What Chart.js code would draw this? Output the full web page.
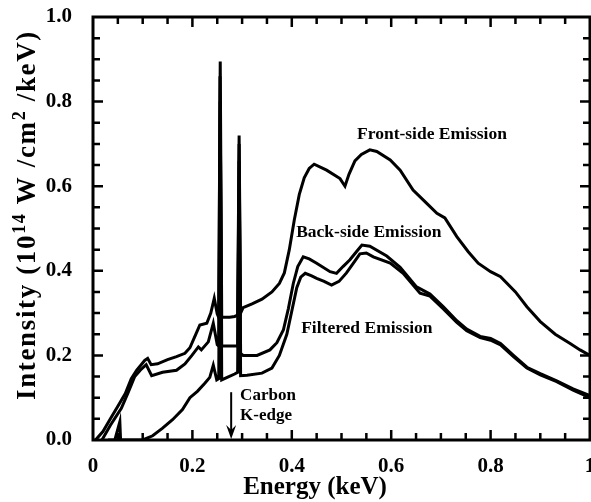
<!DOCTYPE html>
<html>
<head>
<meta charset="utf-8">
<script src="https://cdn.jsdelivr.net/npm/chart.js@4"></script>
<style>
  html, body { margin: 0; padding: 0; background: #fff; }
  #wrap { width: 591px; height: 502px; }
</style>
</head>
<body>
<div id="wrap"><canvas id="chart"></canvas></div>
<script>
// values (energy in keV, intensity in 1e14 W/cm^2/keV)
const frontE = [0.005, 0.02, 0.035, 0.05, 0.065, 0.077, 0.088, 0.097, 0.104, 0.11, 0.117, 0.13, 0.15, 0.168, 0.185, 0.195, 0.205, 0.215, 0.229, 0.237, 0.244, 0.25, 0.253, 0.256, 0.259, 0.265, 0.275, 0.285, 0.291, 0.294, 0.297, 0.302, 0.32, 0.34, 0.36, 0.375, 0.385, 0.395, 0.405, 0.415, 0.425, 0.435, 0.445, 0.47, 0.497, 0.507, 0.515, 0.527, 0.54, 0.557, 0.571, 0.598, 0.618, 0.644, 0.671, 0.692, 0.708, 0.732, 0.755, 0.775, 0.8, 0.82, 0.85, 0.873, 0.9, 0.93, 0.96, 0.98, 1.0];
const frontI = [0, 0.02, 0.05, 0.08, 0.11, 0.145, 0.165, 0.178, 0.188, 0.193, 0.178, 0.18, 0.19, 0.197, 0.205, 0.218, 0.245, 0.272, 0.276, 0.3, 0.335, 0.298, 0.29, 0.895, 0.29, 0.29, 0.29, 0.292, 0.295, 0.72, 0.3, 0.313, 0.322, 0.333, 0.35, 0.37, 0.395, 0.45, 0.52, 0.58, 0.62, 0.642, 0.652, 0.638, 0.618, 0.6, 0.628, 0.66, 0.675, 0.686, 0.682, 0.662, 0.638, 0.591, 0.56, 0.536, 0.525, 0.481, 0.445, 0.418, 0.398, 0.386, 0.35, 0.315, 0.28, 0.25, 0.228, 0.213, 0.2];

const backE = [0.018, 0.035, 0.057, 0.07, 0.084, 0.095, 0.107, 0.118, 0.14, 0.168, 0.185, 0.199, 0.212, 0.218, 0.232, 0.242, 0.25, 0.253, 0.2555, 0.259, 0.27, 0.285, 0.291, 0.294, 0.297, 0.302, 0.33, 0.356, 0.37, 0.383, 0.393, 0.403, 0.412, 0.423, 0.435, 0.45, 0.477, 0.49, 0.503, 0.517, 0.53, 0.541, 0.557, 0.591, 0.618, 0.651, 0.678, 0.705, 0.732, 0.752, 0.779, 0.8, 0.82, 0.846, 0.873, 0.9, 0.933, 0.966, 1.0];
const backI = [0, 0.035, 0.075, 0.11, 0.15, 0.165, 0.178, 0.152, 0.16, 0.165, 0.18, 0.2, 0.22, 0.213, 0.232, 0.276, 0.225, 0.222, 0.86, 0.222, 0.222, 0.222, 0.222, 0.70, 0.205, 0.2, 0.2, 0.213, 0.23, 0.26, 0.31, 0.37, 0.41, 0.433, 0.428, 0.418, 0.398, 0.394, 0.41, 0.426, 0.445, 0.461, 0.458, 0.435, 0.408, 0.362, 0.345, 0.315, 0.282, 0.262, 0.245, 0.24, 0.228, 0.2, 0.172, 0.157, 0.14, 0.121, 0.105];

const filtE = [0.03, 0.044, 0.054, 0.0555, 0.1, 0.12, 0.14, 0.16, 0.18, 0.195, 0.21, 0.225, 0.235, 0.242, 0.249, 0.253, 0.256, 0.259, 0.27, 0.285, 0.291, 0.294, 0.297, 0.31, 0.34, 0.36, 0.375, 0.39, 0.40, 0.41, 0.418, 0.427, 0.44, 0.45, 0.465, 0.48, 0.495, 0.51, 0.525, 0.537, 0.55, 0.564, 0.598, 0.624, 0.658, 0.678, 0.705, 0.732, 0.752, 0.779, 0.8, 0.82, 0.846, 0.873, 0.9, 0.933, 0.966, 1.0];
const filtI = [0, 0, 0.043, 0, 0, 0.01, 0.028, 0.048, 0.072, 0.1, 0.115, 0.134, 0.148, 0.177, 0.142, 0.145, 0.8, 0.142, 0.148, 0.156, 0.16, 0.66, 0.152, 0.153, 0.158, 0.17, 0.2, 0.25, 0.305, 0.36, 0.385, 0.394, 0.388, 0.382, 0.375, 0.366, 0.375, 0.395, 0.42, 0.44, 0.442, 0.433, 0.418, 0.394, 0.347, 0.34, 0.31, 0.278, 0.258, 0.242, 0.236, 0.225, 0.197, 0.17, 0.154, 0.138, 0.118, 0.1];

const xTicks = ['0', '0.2', '0.4', '0.6', '0.8', '1'];
const yTicks = ['0.0', '0.2', '0.4', '0.6', '0.8', '1.0'];

const SERIF = '"Liberation Serif", "Times New Roman", serif';

function pts(xs, ys) {
  return xs.map((v, i) => ({x: v, y: ys[i]}));
}

function line(label, xs, ys) {
  return {
    label,
    data: pts(xs, ys),
    borderColor: '#000',
    borderWidth: 3,
    pointRadius: 0,
    fill: false,
    tension: 0,
  };
}

// box frame, inward ticks, annotations and the axis titles
const decorations = {
  id: 'decorations',
  afterDatasetsDraw(chart) {
    const {ctx, chartArea: a, scales: {x, y}} = chart;
    ctx.save();
    ctx.strokeStyle = '#000';
    ctx.fillStyle = '#000';
    ctx.lineWidth = 3;
    ctx.strokeRect(a.left, a.top, a.right - a.left, a.bottom - a.top);

    ctx.lineWidth = 2.5;
    ctx.beginPath();
    for (let i = 1; i < 20; i++) {
      const v = i * 0.05;
      const len = i % 4 === 0 ? 10 : 7;
      const px = x.getPixelForValue(v);
      const py = y.getPixelForValue(v);
      ctx.moveTo(px, a.bottom); ctx.lineTo(px, a.bottom - len);
      ctx.moveTo(px, a.top); ctx.lineTo(px, a.top + len);
      ctx.moveTo(a.left, py); ctx.lineTo(a.left + len, py);
      ctx.moveTo(a.right, py); ctx.lineTo(a.right - len, py);
    }
    ctx.stroke();

    // labels on the curves
    ctx.font = 'bold 17.5px ' + SERIF;
    ctx.textAlign = 'center';
    ctx.textBaseline = 'middle';
    ctx.fillText('Front-side Emission', x.getPixelForValue(0.682), y.getPixelForValue(0.722));
    ctx.fillText('Back-side Emission', x.getPixelForValue(0.555), y.getPixelForValue(0.49));
    ctx.fillText('Filtered Emission', x.getPixelForValue(0.551), y.getPixelForValue(0.263));

    ctx.font = 'bold 17px ' + SERIF;
    ctx.textAlign = 'left';
    ctx.fillText('Carbon', x.getPixelForValue(0.296), y.getPixelForValue(0.104));
    ctx.fillText('K-edge', x.getPixelForValue(0.296), y.getPixelForValue(0.057));

    // arrow to the carbon K-edge
    const ax = x.getPixelForValue(0.278);
    const ay0 = y.getPixelForValue(0.113);
    const ay1 = a.bottom - 1;
    ctx.lineWidth = 2;
    ctx.beginPath();
    ctx.moveTo(ax, ay0); ctx.lineTo(ax, ay1 - 8);
    ctx.stroke();
    ctx.beginPath();
    ctx.moveTo(ax - 5, ay1 - 14);
    ctx.lineTo(ax, ay1);
    ctx.lineTo(ax + 5, ay1 - 14);
    ctx.lineTo(ax, ay1 - 9);
    ctx.closePath();
    ctx.fill();

    // x axis title
    ctx.font = 'bold 25px ' + SERIF;
    ctx.textAlign = 'center';
    ctx.textBaseline = 'middle';
    ctx.fillText('Energy (keV)', 315, 488);

    // y axis title with superscripts
    const parts = [
      ['Intensity (10', false],
      ['14', true],
      [' W /cm', false],
      ['2', true],
      [' /keV)', false],
    ];
    const big = 'bold 27px ' + SERIF;
    const small = 'bold 18px ' + SERIF;
    let total = 0, chars = 0;
    parts.forEach(p => {
      ctx.font = p[1] ? small : big;
      total += ctx.measureText(p[0]).width;
      chars += p[0].length;
    });
    const gap = Math.max(0, (370 - total) / chars);
    ctx.translate(35, 215);
    ctx.rotate(-Math.PI / 2);
    ctx.textAlign = 'left';
    ctx.textBaseline = 'alphabetic';
    let cx = -(total + gap * chars) / 2;
    parts.forEach(p => {
      ctx.font = p[1] ? small : big;
      for (const ch of p[0]) {
        ctx.fillText(ch, cx, p[1] ? -10 : 0);
        cx += ctx.measureText(ch).width + gap;
      }
    });
    ctx.restore();
  }
};

Chart.defaults.font.family = SERIF;
Chart.defaults.color = '#000';

new Chart(document.getElementById('chart'), {
  type: 'line',
  data: {
    datasets: [
      line('Front-side Emission', frontE, frontI),
      line('Back-side Emission', backE, backI),
      line('Filtered Emission', filtE, filtI),
    ]
  },
  options: {
    responsive: true,
    maintainAspectRatio: false,
    animation: false,
    layout: { padding: { top: 17, right: 1, left: 0, bottom: 0 } },
    plugins: {
      legend: { display: false },
      tooltip: { enabled: false },
    },
    scales: {
      x: {
        type: 'linear',
        min: 0,
        max: 1,
        grid: { display: false },
        border: { display: false },
        ticks: {
          stepSize: 0.2,
          padding: 6,
          maxRotation: 0,
          font: { size: 21, weight: 'bold' },
          callback: (v) => xTicks[Math.round(v * 5)],
        },
        afterFit(scale) {
          scale.height = 62;
          scale.paddingLeft = 0;
          scale.paddingRight = 0;
        },
      },
      y: {
        min: 0,
        max: 1,
        grid: { display: false },
        border: { display: false },
        ticks: {
          stepSize: 0.2,
          padding: 13,
          font: { size: 21, weight: 'bold' },
          callback: (v) => yTicks[Math.round(v * 5)],
        },
        afterFit(scale) {
          scale.width = 93;
          scale.paddingTop = 0;
          scale.paddingBottom = 0;
        },
      },
    },
  },
  plugins: [decorations],
});
</script>
</body>
</html>
